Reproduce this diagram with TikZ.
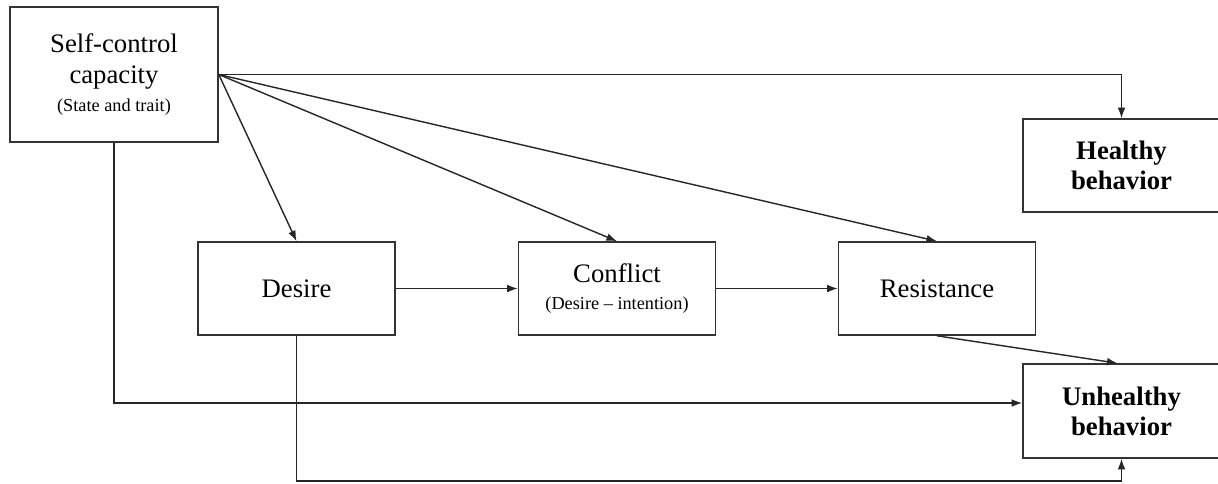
\documentclass[tikz,border=0pt]{standalone}
\usepackage{fontspec}
\setmainfont{Liberation Serif}
\usetikzlibrary{arrows.meta}
\newcommand\subtxt{\fontsize{13}{15.5}\selectfont}

\begin{document}
\begin{tikzpicture}[x=0.025cm, y=-0.025cm,
		box/.style={draw=black!80, line width=1.1pt, rectangle, align=center, inner sep=0pt,
			minimum width=4.925cm, minimum height=2.325cm, font=\fontsize{19}{22}\selectfont},
		outbox/.style={box, font=\fontsize{19}{21.5}\selectfont\bfseries},
		arr/.style={draw=black!85, line width=1pt, -{Latex[length=7.5pt,width=5.5pt]}}]
				\useasboundingbox (0,0) rectangle (1218,483);
				% model of self-control
				\node[box, minimum width=5.2cm, minimum height=3.375cm] (sc) at (114,74.5) {Self-control\\capacity\\[-2pt]\subtxt (State and trait)};
				\node[box] (desire) at (296.5,288.5) {Desire};
				\node[box] (conflict) at (617,288.5) {Conflict\\[-3pt]\subtxt (Desire -- intention)};
				\node[box] (resist) at (937,288.5) {Resistance};
				\node[outbox] (healthy) at (1121.5,165.5) {Healthy\\behavior};
				\node[outbox, minimum height=2.35cm] (unhealthy) at (1121.5,411) {Unhealthy\\behavior};
				
				\draw[arr] (sc.east) -| (healthy.north);
				\draw[arr] (sc.east) -- (desire.north);
				\draw[arr] (sc.east) -- (conflict.north);
				\draw[arr] (sc.east) -- (resist.north);
				\draw[arr] (sc.south) |- ([yshift=0.2cm]unhealthy.west);
				\draw[arr] (desire.east) -- (conflict.west);
				\draw[arr] (conflict.east) -- (resist.west);
				\draw[arr] (resist.south) -- ([xshift=-0.1cm]unhealthy.north);
				\draw[arr] (desire.south) -- (desire.south |- 0,481) -| (unhealthy.south);
		\end{tikzpicture}
\end{document}
